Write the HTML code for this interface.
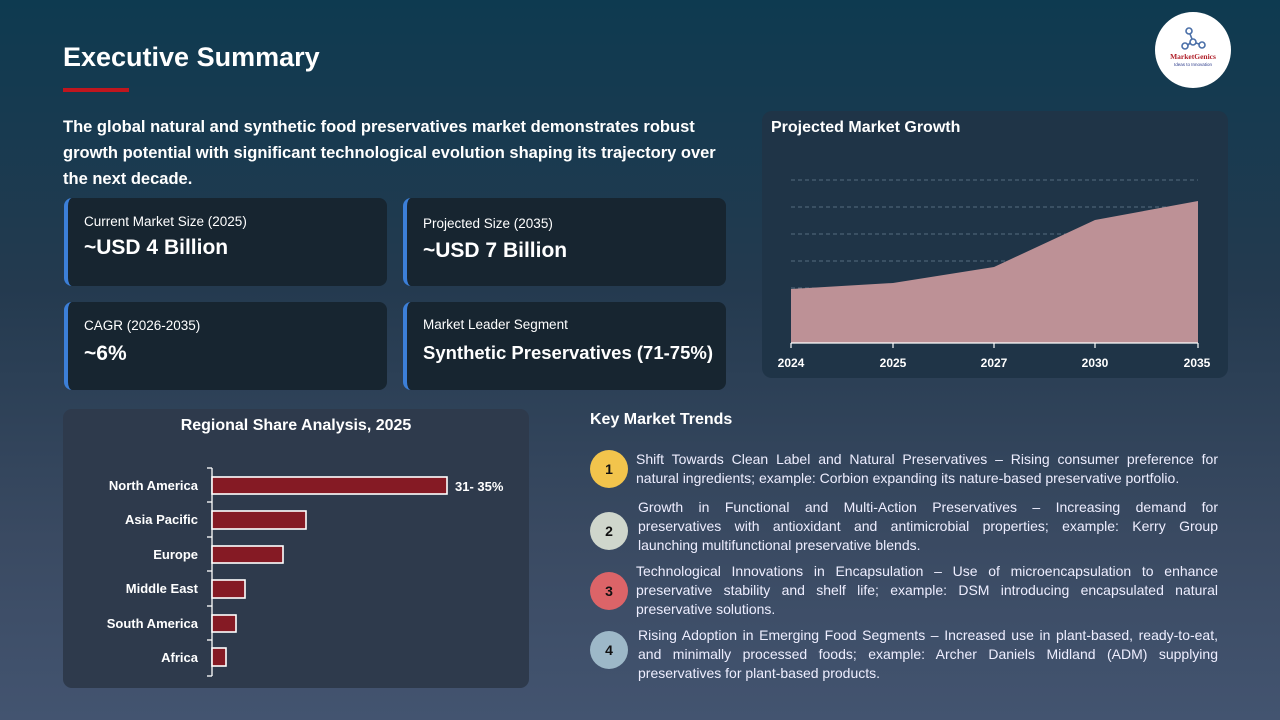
<!DOCTYPE html>
<html><head><meta charset="utf-8"><style>
*{margin:0;padding:0;box-sizing:border-box}
body{width:1280px;height:720px;overflow:hidden;font-family:"Liberation Sans",sans-serif;color:#fff;background:linear-gradient(180deg,#0e3a50 0%,#243a4f 40%,#3a4a62 75%,#435470 100%);position:relative}
.abs{position:absolute}
h1{position:absolute;left:63px;top:42px;font-size:27px;font-weight:bold}
.red{left:63px;top:88px;width:66px;height:4px;background:#c0161e}
.intro{left:63px;top:114px;width:660px;font-size:16.5px;font-weight:bold;line-height:26px}
.card{position:absolute;background:#172530;border-radius:8px;border-left:4px solid #3c7fd8}
.card .l{position:absolute;left:16px;font-size:13.5px}
.card .v{position:absolute;left:16px;font-size:21px;font-weight:bold}
.num{position:absolute;left:590px;width:38px;height:38px;border-radius:50%;color:#111;font-weight:bold;font-size:14px;text-align:center;line-height:38px}
.trend{position:absolute;left:636px;width:582px;font-size:14px;line-height:19px;text-align:justify;color:#eef}
.trend span{display:block;text-align:justify;text-align-last:justify}
.trend span.e{text-align-last:left}
</style></head><body>
<h1>Executive Summary</h1>
<div class="abs red"></div>
<div class="abs" style="left:1155px;top:12px;width:76px;height:76px;border-radius:50%;background:#fff;">
<svg width="76" height="76"><g stroke="#4a6fa8" stroke-width="1.6" fill="none"><circle cx="34" cy="19" r="3"/><circle cx="38" cy="30" r="3"/><circle cx="47" cy="33" r="3"/><circle cx="30" cy="34" r="3"/><line x1="35" y1="22" x2="37" y2="27"/><line x1="41" y1="31" x2="44" y2="32"/><line x1="33" y1="33" x2="35" y2="31"/></g>
<text x="38" y="47" font-size="7.5" font-weight="bold" fill="#b0202a" text-anchor="middle" font-family="Liberation Serif,serif">MarketGenics</text>
<text x="38" y="54" font-size="4.5" fill="#2a3a8a" text-anchor="middle">Ideas to Innovation</text></svg></div>
<div class="abs intro">The global natural and synthetic food preservatives market demonstrates robust growth potential with significant technological evolution shaping its trajectory over the next decade.</div>

<div class="card" style="left:64px;top:198px;width:323px;height:88px"><div class="l" style="top:16px">Current Market Size (2025)</div><div class="v" style="top:38px">~USD 4 Billion</div></div>
<div class="card" style="left:403px;top:198px;width:323px;height:88px"><div class="l" style="top:18px">Projected Size (2035)</div><div class="v" style="top:41px">~USD 7 Billion</div></div>
<div class="card" style="left:64px;top:302px;width:323px;height:88px"><div class="l" style="top:16px">CAGR (2026-2035)</div><div class="v" style="top:40px">~6%</div></div>
<div class="card" style="left:403px;top:302px;width:323px;height:88px"><div class="l" style="top:15px">Market Leader Segment</div><div class="v" style="top:40px;font-size:18.5px">Synthetic Preservatives (71-75%)</div></div>

<div class="abs" style="left:762px;top:111px;width:466px;height:267px;background:#1f3447;border-radius:10px"></div>
<svg class="abs" style="left:0;top:0" width="1280" height="720">
<text x="771" y="132" font-size="16" font-weight="bold" fill="#fff" font-family="Liberation Sans">Projected Market Growth</text>
<g stroke="#6a7f92" stroke-dasharray="4,3" stroke-width="0.8"><line x1="791" y1="180" x2="1198" y2="180"/><line x1="791" y1="207" x2="1198" y2="207"/><line x1="791" y1="234" x2="1198" y2="234"/><line x1="791" y1="261" x2="1198" y2="261"/><line x1="791" y1="288" x2="1198" y2="288"/><line x1="791" y1="315" x2="1198" y2="315"/></g>
<polygon points="791,289 893,283 994,267 1095,220 1198,201 1198,343 791,343" fill="#bd9196"/>
<g stroke="#fff" stroke-width="1.2"><line x1="791" y1="343" x2="1198" y2="343"/><line x1="791" y1="343" x2="791" y2="348"/><line x1="893" y1="343" x2="893" y2="348"/><line x1="994" y1="343" x2="994" y2="348"/><line x1="1095" y1="343" x2="1095" y2="348"/><line x1="1198" y1="343" x2="1198" y2="348"/></g>
<g font-size="12" font-weight="bold" fill="#fff" text-anchor="middle" font-family="Liberation Sans"><text x="791" y="367">2024</text><text x="893" y="367">2025</text><text x="994" y="367">2027</text><text x="1095" y="367">2030</text><text x="1197" y="367">2035</text></g>

<rect x="63" y="409" width="466" height="279" rx="9" fill="#2e3a4c"/>
<text x="296" y="430" font-size="16" font-weight="bold" fill="#fff" text-anchor="middle" font-family="Liberation Sans">Regional Share Analysis, 2025</text>
<g stroke="#fff" stroke-width="1.3"><line x1="212" y1="468" x2="212" y2="676"/><line x1="207" y1="468" x2="212" y2="468"/><line x1="207" y1="502" x2="212" y2="502"/><line x1="207" y1="537" x2="212" y2="537"/><line x1="207" y1="571" x2="212" y2="571"/><line x1="207" y1="606" x2="212" y2="606"/><line x1="207" y1="640" x2="212" y2="640"/><line x1="207" y1="676" x2="212" y2="676"/></g>
<g fill="#851a24" stroke="#fff" stroke-width="1.6"><rect x="212" y="477" width="235" height="17"/><rect x="212" y="511" width="94" height="18"/><rect x="212" y="546" width="71" height="17"/><rect x="212" y="580" width="33" height="18"/><rect x="212" y="615" width="24" height="17"/><rect x="212" y="648" width="14" height="18"/></g>
<g font-size="13" font-weight="bold" fill="#fff" text-anchor="end" font-family="Liberation Sans"><text x="198" y="490">North America</text><text x="198" y="524">Asia Pacific</text><text x="198" y="559">Europe</text><text x="198" y="593">Middle East</text><text x="198" y="628">South America</text><text x="198" y="662">Africa</text></g>
<text x="455" y="491" font-size="13" font-weight="bold" fill="#fff" font-family="Liberation Sans">31- 35%</text>
<text x="590" y="424" font-size="16" font-weight="bold" fill="#fff" font-family="Liberation Sans">Key Market Trends</text>
</svg>

<div class="num" style="top:450px;background:#f2c44c">1</div>
<div class="num" style="top:512px;background:#cfd6cc">2</div>
<div class="num" style="top:572px;background:#dc6468">3</div>
<div class="num" style="top:631px;background:#9db8c8">4</div>
<div class="trend" style="top:450px">Shift Towards Clean Label and Natural Preservatives – Rising consumer preference for natural ingredients; example: Corbion expanding its nature-based preservative portfolio.</div>
<div class="trend" style="top:498px;left:638px;width:580px"><span>Growth in Functional and Multi-Action Preservatives – Increasing demand for</span><span>preservatives with antioxidant and antimicrobial properties; example: Kerry Group</span><span class="e">launching multifunctional preservative blends.</span></div>
<div class="trend" style="top:562px">Technological Innovations in Encapsulation – Use of microencapsulation to enhance preservative stability and shelf life; example: DSM introducing encapsulated natural preservative solutions.</div>
<div class="trend" style="top:626px;left:638px;width:580px">Rising Adoption in Emerging Food Segments – Increased use in plant-based, ready-to-eat, and minimally processed foods; example: Archer Daniels Midland (ADM) supplying preservatives for plant-based products.</div>
</body></html>
